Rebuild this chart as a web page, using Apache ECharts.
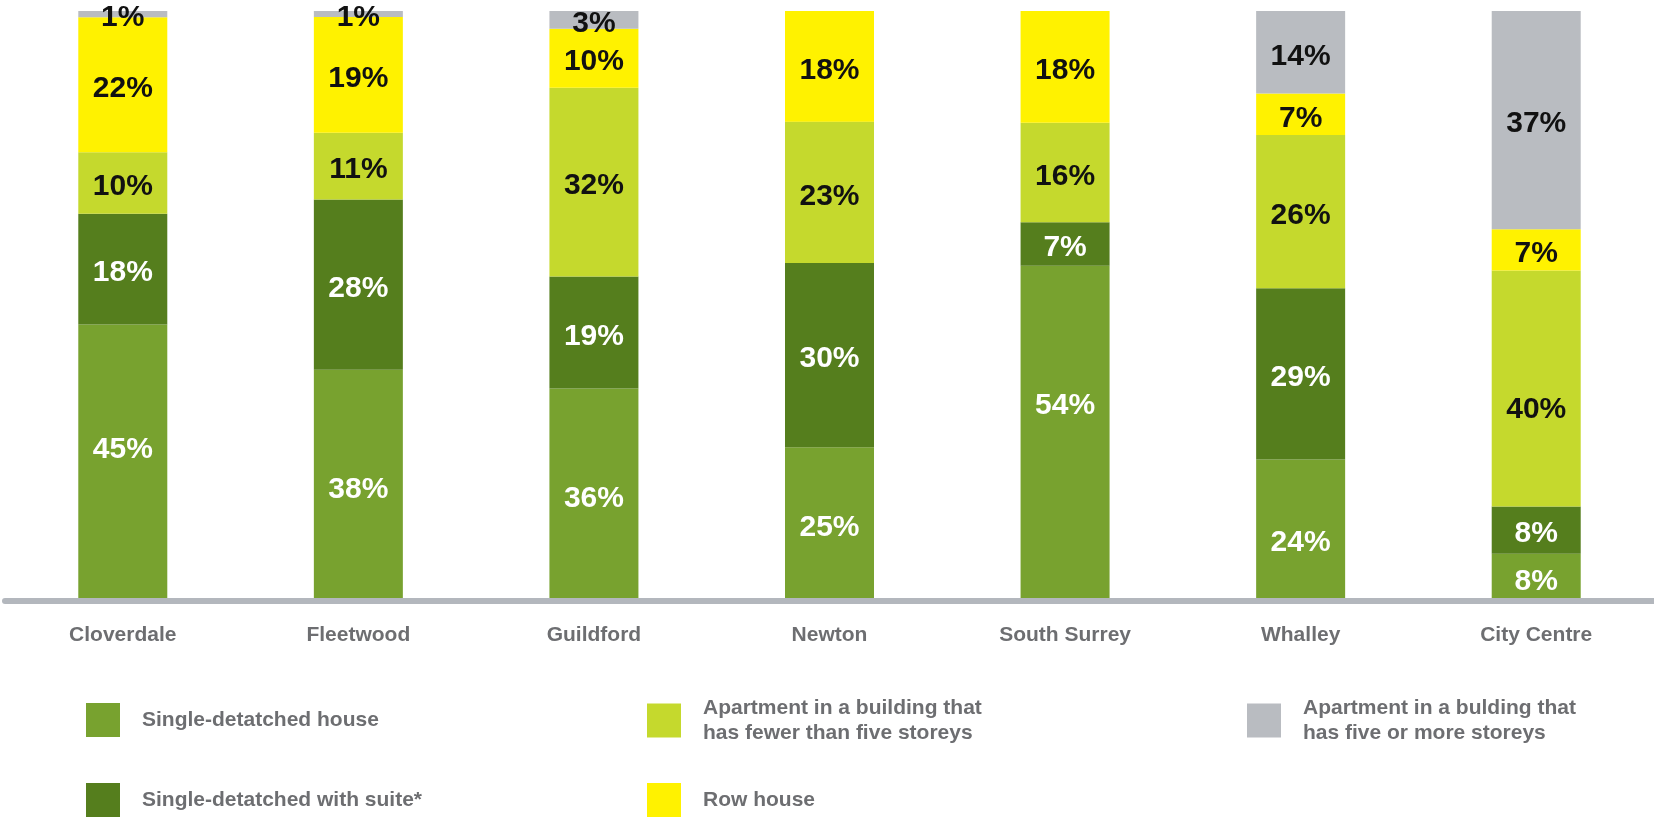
<!DOCTYPE html>
<html>
<head>
<meta charset="utf-8">
<script src="https://cdn.jsdelivr.net/npm/echarts@6/dist/echarts.min.js"></script>
<style>
  html, body { margin: 0; padding: 0; background: #ffffff; }
  #chart { width: 1654px; height: 819px; }
</style>
</head>
<body>
<div id="chart"></div>
<script>
// Dwelling type mix by Surrey community (percent of households)
const communities = ['Cloverdale', 'Fleetwood', 'Guildford', 'Newton', 'South Surrey', 'Whalley', 'City Centre'];

const singleDetached     = [45, 38, 36, 25, 54, 24, 8];
const singleWithSuite    = [18, 28, 19, 30, 7, 29, 8];
const aptUnderFive       = [10, 11, 32, 23, 16, 26, 40];
const rowHouse           = [22, 19, 10, 18, 18, 7, 7];
const aptFivePlus        = [1, 1, 3, 0, 0, 14, 37];

const seriesNames = [
  'Single-detatched house',
  'Single-detatched with suite*',
  'Apartment in a building that has fewer than five storeys',
  'Row house',
  'Apartment in a bulding that has five or more storeys'
];
const legendText = {
  'Single-detatched house': 'Single-detatched house',
  'Single-detatched with suite*': 'Single-detatched with suite*',
  'Apartment in a building that has fewer than five storeys': 'Apartment in a building that\nhas fewer than five storeys',
  'Row house': 'Row house',
  'Apartment in a bulding that has five or more storeys': 'Apartment in a bulding that\nhas five or more storeys'
};
const colors = ['#78a22f', '#557e1d', '#c5d92d', '#fff200', '#b9bcc1'];
const labelColors = ['#ffffff', '#ffffff', '#111111', '#111111', '#111111'];

// Vertical label nudges (px) for a few segments whose labels sit off-centre
const labelNudge = {
  '0-0': -13,  // Cloverdale, single-detatched
  '0-4': -28,  // South Surrey, single-detatched
  '0-5': 13,   // Whalley, single-detatched
  '2-6': 21    // City Centre, low-rise apartments
};

const allValues = [singleDetached, singleWithSuite, aptUnderFive, rowHouse, aptFivePlus];

// Each column is stacked to a full 100 % height: segments are the value's share of the column total
const totals = communities.map((_, i) => allValues.reduce((s, arr) => s + arr[i], 0));

const series = allValues.map((arr, k) => ({
  name: seriesNames[k],
  type: 'bar',
  stack: 'mix',
  barWidth: 89,
  itemStyle: { color: colors[k] },
  label: {
    show: true,
    position: 'inside',
    formatter: p => p.data.raw + '%',
    color: labelColors[k],
    fontFamily: 'Liberation Sans, Arial, sans-serif',
    fontWeight: 'bold',
    fontSize: 30
  },
  data: arr.map((v, i) => {
    if (!(v > 0)) return '-';
    const nudge = labelNudge[k + '-' + i];
    return {
      value: v / totals[i] * 100,
      raw: v,
      label: { offset: [0, nudge !== undefined ? nudge : 4] }
    };
  })
}));

const legendTextStyle = {
  color: '#6d6e71',
  fontFamily: 'Liberation Sans, Arial, sans-serif',
  fontWeight: 'bold',
  fontSize: 21,
  lineHeight: 25,
  padding: [0, 0, 0, 17]
};
const legendPos = [
  { left: 86, top: 703 },
  { left: 86, top: 783 },
  { left: 647, top: 695.5 },
  { left: 647, top: 783 },
  { left: 1247, top: 695.5 }
];
const legends = seriesNames.map((name, k) => ({
  data: [name],
  left: legendPos[k].left,
  top: legendPos[k].top,
  padding: 0,
  orient: 'horizontal',
  icon: 'rect',
  itemWidth: 34,
  itemHeight: 34,
  selectedMode: false,
  formatter: n => legendText[n],
  textStyle: legendTextStyle
}));

const chart = echarts.init(document.getElementById('chart'), null, { renderer: 'canvas' });
chart.setOption({
  animation: false,
  backgroundColor: '#ffffff',
  color: colors,
  grid: { left: 5, right: 0, top: 11, bottom: 218, containLabel: false },
  xAxis: {
    type: 'category',
    data: communities,
    z: 5,
    axisLine: { show: true, lineStyle: { color: '#b3b7bd', width: 6 } },
    axisTick: { show: false },
    axisLabel: {
      margin: 24,
      color: '#6d6e71',
      fontFamily: 'Liberation Sans, Arial, sans-serif',
      fontWeight: 'bold',
      fontSize: 21
    }
  },
  yAxis: {
    type: 'value',
    min: 0,
    max: 100,
    show: false,
    splitLine: { show: false }
  },
  legend: legends,
  series: series
});
</script>
</body>
</html>
